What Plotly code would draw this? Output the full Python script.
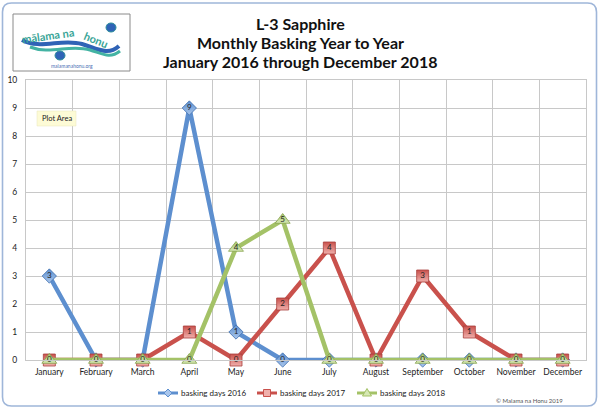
import plotly.graph_objects as go

months = ["January", "February", "March", "April", "May", "June", "July",
          "August", "September", "October", "November", "December"]
days_2016 = [3, 0, 0, 9, 1, 0, 0, 0, 0, 0, 0, 0]
days_2017 = [0, 0, 0, 1, 0, 2, 4, 0, 3, 1, 0, 0]
days_2018 = [0, 0, 0, 0, 4, 5, 0, 0, 0, 0, 0, 0]
series_names = ["basking days 2016", "basking days 2017", "basking days 2018"]

W, H = 600, 410
ML, MR, MT, MB = 26, 14, 80, 50
PW, PH = W - ML - MR, H - MT - MB


def px(x):
    return (x - ML) / PW


def py(y):
    return (H - MB - y) / PH


FONT = "Lato"
fig = go.Figure()

styles = [
    dict(color="#5d8fcf", light="#a9c6ec", dark="#3f6faf", symbol="diamond", size=11),
    dict(color="#c9514c", light="#f0b0ac", dark="#a8403c", symbol="square", size=12),
    dict(color="#a4c267", light="#d6e8b4", dark="#86a24c", symbol="triangle-up", size=13),
]
for name, vals, st in zip(series_names, [days_2016, days_2017, days_2018], styles):
    fig.add_trace(go.Scatter(
        x=months, y=vals, name=name, mode="lines+markers+text",
        text=[str(v) for v in vals], textposition="middle center",
        textfont=dict(family=FONT, size=8, color="#222222"),
        line=dict(color=st["color"], width=4.5),
        marker=dict(symbol=st["symbol"], size=st["size"], color=st["color"],
                    gradient=dict(type="vertical", color=st["light"]),
                    line=dict(color=st["dark"], width=0.8)),
        cliponaxis=False, showlegend=False,
    ))


def rounded(x0, y0, x1, y1, r):
    pts = [
        f"M {px(x0 + r)},{py(y0)}",
        f"L {px(x1 - r)},{py(y0)}",
        f"Q {px(x1)},{py(y0)} {px(x1)},{py(y0 + r)}",
        f"L {px(x1)},{py(y1 - r)}",
        f"Q {px(x1)},{py(y1)} {px(x1 - r)},{py(y1)}",
        f"L {px(x0 + r)},{py(y1)}",
        f"Q {px(x0)},{py(y1)} {px(x0)},{py(y1 - r)}",
        f"L {px(x0)},{py(y0 + r)}",
        f"Q {px(x0)},{py(y0)} {px(x0 + r)},{py(y0)}",
        "Z",
    ]
    return " ".join(pts)


def poly(points):
    return "M " + " L ".join(f"{px(x)},{py(y)}" for x, y in points) + " Z"


shapes = [
    dict(type="path", xref="paper", yref="paper", path=rounded(2.5, 3, 596.5, 406, 9),
         line=dict(color="#9fb6d9", width=1.6), layer="below"),
    dict(type="rect", xref="paper", yref="paper", x0=px(13), x1=px(130), y0=py(71), y1=py(14),
         line=dict(color="#8a8a8a", width=1), fillcolor="white"),
    dict(type="path", xref="paper", yref="paper",
         path=f"M {px(22)},{py(40)} C {px(40)},{py(50)} {px(62)},{py(38)} {px(82)},{py(44)} "
              f"C {px(98)},{py(49)} {px(108)},{py(56)} {px(119)},{py(46)}",
         line=dict(color="#2f63b6", width=4)),
    dict(type="path", xref="paper", yref="paper",
         path=f"M {px(30)},{py(47)} C {px(50)},{py(55)} {px(70)},{py(44)} {px(90)},{py(50)} "
              f"C {px(103)},{py(54)} {px(110)},{py(59)} {px(120)},{py(51)}",
         line=dict(color="#43b3a3", width=3)),
    dict(type="circle", xref="paper", yref="paper", x0=px(106), x1=px(116), y0=py(32), y1=py(23),
         fillcolor="#2f63b6", line=dict(color="#2b8e9a", width=1)),
    dict(type="circle", xref="paper", yref="paper", x0=px(55), x1=px(65), y0=py(60), y1=py(51),
         fillcolor="#2f63b6", line=dict(color="#2b8e9a", width=1)),
    dict(type="rect", xref="paper", yref="paper", x0=px(37), x1=px(76), y0=py(126), y1=py(111),
         fillcolor="#fdfbd6", line=dict(color="#e8e4b8", width=0.5)),
]


def ann(text, x, y, size, color, **kw):
    d = dict(text=text, x=px(x), y=py(y), xref="paper", yref="paper", showarrow=False,
             xanchor="center", yanchor="middle",
             font=dict(family=FONT, size=size, color=color))
    d.update(kw)
    return d


annotations = [
    ann("<b>L-3 Sapphire</b>", 300, 23, 16, "#111111"),
    ann("<b>Monthly Basking Year to Year</b>", 300, 42, 16, "#111111"),
    ann("<b>January 2016 through December 2018</b>", 300, 61, 16, "#111111"),
    ann("<b>mālama na</b>", 48, 36, 11, "#3aa597", textangle=-8),
    ann("<b>honu</b>", 96, 39, 11, "#3aa597", textangle=22),
    ann("malamanahonu.org", 72, 66, 5, "#4a6fb5"),
    ann("Plot Area", 56.5, 118.5, 7.5, "#222222"),
    ann("© Malama na Honu 2019", 529, 400, 6, "#555555"),
]

# custom legend (line sample + marker + label), matching the reference layout
legend_x = [158, 257, 357]
LY = 393
for name, st, lx in zip(series_names, styles, legend_x):
    shapes.append(dict(type="line", xref="paper", yref="paper", x0=px(lx), x1=px(lx + 20),
                       y0=py(LY), y1=py(LY), line=dict(color=st["color"], width=3)))
    cx = lx + 10
    if st["symbol"] == "diamond":
        pts = [(cx, LY - 4), (cx + 4, LY), (cx, LY + 4), (cx - 4, LY)]
    elif st["symbol"] == "square":
        pts = [(cx - 3.5, LY - 3.5), (cx + 3.5, LY - 3.5), (cx + 3.5, LY + 3.5), (cx - 3.5, LY + 3.5)]
    else:
        pts = [(cx, LY - 4.5), (cx + 4.5, LY + 3), (cx - 4.5, LY + 3)]
    shapes.append(dict(type="path", xref="paper", yref="paper", path=poly(pts),
                       fillcolor=st["light"], line=dict(color=st["color"], width=1)))
    annotations.append(ann(name, lx + 21, LY, 8, "#222222", xanchor="left"))

fig.update_layout(
    width=W, height=H,
    margin=dict(l=ML, r=MR, t=MT, b=MB, autoexpand=False),
    paper_bgcolor="white", plot_bgcolor="white",
    shapes=shapes, annotations=annotations,
    showlegend=False,
    xaxis=dict(type="category", tickson="boundaries", range=[-0.5, 11.5],
               showgrid=True, gridcolor="#c8c8c8",
               gridwidth=1, showline=True, linecolor="#c8c8c8", mirror=True, ticks="",
               tickangle=0, automargin=False,
               tickfont=dict(family=FONT, size=8.5, color="#222222"), ticklabelstandoff=4,
               zeroline=False, fixedrange=True),
    yaxis=dict(range=[0, 10], dtick=1, showgrid=True, gridcolor="#c8c8c8", gridwidth=1,
               showline=True, linecolor="#c8c8c8", mirror=True, ticks="", automargin=False,
               tickfont=dict(family=FONT, size=8.5, color="#222222"), ticklabelstandoff=6,
               zeroline=False, fixedrange=True),
)

fig.write_html("out.html", post_script="document.body.style.margin='0';",
               config={"displayModeBar": False})
